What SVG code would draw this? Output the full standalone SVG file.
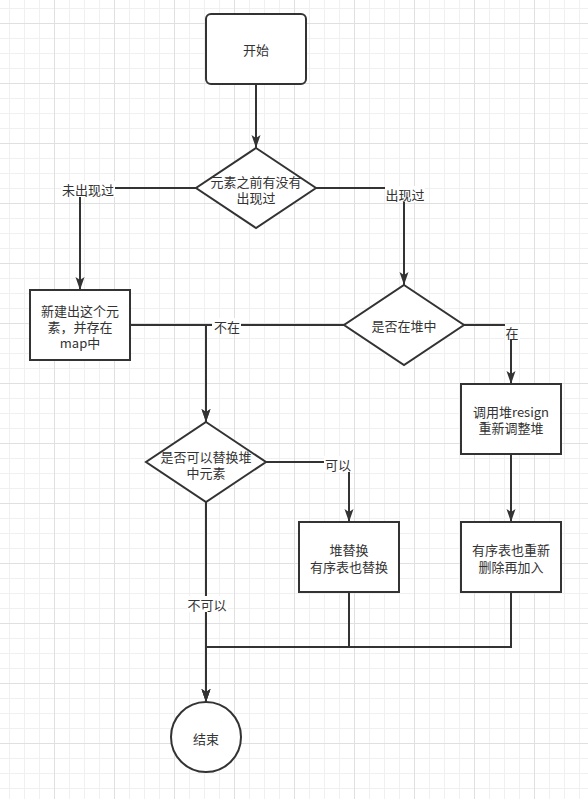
<svg xmlns="http://www.w3.org/2000/svg" width="588" height="799" viewBox="0 0 588 799">
<defs>
<pattern id="grid" x="-6" y="-37" width="60" height="60" patternUnits="userSpaceOnUse">
<path d="M15.5,0 V60 M30.5,0 V60 M45.5,0 V60 M0,15.5 H60 M0,30.5 H60 M0,45.5 H60" stroke="#f0f0f0" stroke-width="1" fill="none"/>
<path d="M0.5,0 V60 M0,0.5 H60" stroke="#e0e0e0" stroke-width="1" fill="none"/>
</pattern>
<marker id="arr" viewBox="0 0 13 10" refX="13" refY="5" markerWidth="13" markerHeight="10" markerUnits="userSpaceOnUse" orient="auto">
<path d="M0,0.5 L13,5 L0,9.5 L3,5 Z" fill="#333"/>
</marker>
<style>
.shape{fill:#fff;stroke:#333;stroke-width:2}
.edge{fill:none;stroke:#333;stroke-width:2}
.arrow{marker-end:url(#arr)}
text{font-family:"Noto Sans CJK SC","Noto Sans",sans-serif;font-size:13px;fill:#333;text-anchor:middle;dominant-baseline:central}
.lbg{fill:#fff}
</style>
</defs>
<rect width="588" height="799" fill="#fff"/>
<rect width="588" height="799" fill="url(#grid)"/>
<g id="connectors">
<path class="edge arrow" d="M256,84 V148"/>
<path class="edge arrow" d="M196,188 H80 V290"/>
<path class="edge arrow" d="M316,188 H404 V285"/>
<path class="edge arrow" d="M464,325 H511 V384"/>
<path class="edge arrow" d="M344,325 H206 V422"/>
<path class="edge arrow" d="M130,325 H206 V422"/>
<path class="edge arrow" d="M266,462 H349 V522"/>
<path class="edge arrow" d="M511,454 V522"/>
<path class="edge arrow" d="M206,502 V702"/>
<path class="edge arrow" d="M349,592 V647 H206 V702"/>
<path class="edge arrow" d="M511,592 V647 H206 V702"/>
<rect class="lbg" x="61" y="181" width="54" height="16"/>
<text x="88" y="189">未出现过</text>
<rect class="lbg" x="385" y="186" width="40" height="16"/>
<text x="405" y="194">出现过</text>
<rect class="lbg" x="505" y="324" width="15" height="16"/>
<text x="512" y="332">在</text>
<rect class="lbg" x="212" y="318" width="29" height="16"/>
<text x="227" y="326">不在</text>
<rect class="lbg" x="324" y="456" width="29" height="16"/>
<text x="338" y="464">可以</text>
<rect class="lbg" x="187" y="596" width="41" height="16"/>
<text x="207" y="604">不可以</text>
</g>
<g id="start">
<rect class="shape" x="206" y="14" width="100" height="70" rx="5"/>
<text x="256" y="49">开始</text>
</g>
<g id="appeared">
<path class="shape" d="M256,148 L316,188 L256,228 L196,188 Z"/>
<text x="256" y="181"><tspan x="256">元素之前有没有</tspan><tspan x="256" dy="16">出现过</tspan></text>
</g>
<g id="create">
<rect class="shape" x="30" y="290" width="100" height="70"/>
<text x="80" y="310"><tspan x="80">新建出这个元</tspan><tspan x="80" dy="16">素，并存在</tspan><tspan x="80" dy="16">map中</tspan></text>
</g>
<g id="inheap">
<path class="shape" d="M404,285 L464,325 L404,365 L344,325 Z"/>
<text x="404" y="325">是否在堆中</text>
</g>
<g id="resign">
<rect class="shape" x="461" y="384" width="100" height="70"/>
<text x="511" y="411"><tspan x="511">调用堆resign</tspan><tspan x="511" dy="16">重新调整堆</tspan></text>
</g>
<g id="canreplace">
<path class="shape" d="M206,422 L266,462 L206,502 L146,462 Z"/>
<text x="206" y="456"><tspan x="206">是否可以替换堆</tspan><tspan x="206" dy="16">中元素</tspan></text>
</g>
<g id="replace">
<rect class="shape" x="299" y="522" width="100" height="70"/>
<text x="349" y="549"><tspan x="349">堆替换</tspan><tspan x="349" dy="17">有序表也替换</tspan></text>
</g>
<g id="readd">
<rect class="shape" x="461" y="522" width="100" height="70"/>
<text x="511" y="549"><tspan x="511">有序表也重新</tspan><tspan x="511" dy="17">删除再加入</tspan></text>
</g>
<g id="end">
<circle class="shape" cx="206" cy="737" r="35"/>
<text x="206" y="738">结束</text>
</g>
</svg>
